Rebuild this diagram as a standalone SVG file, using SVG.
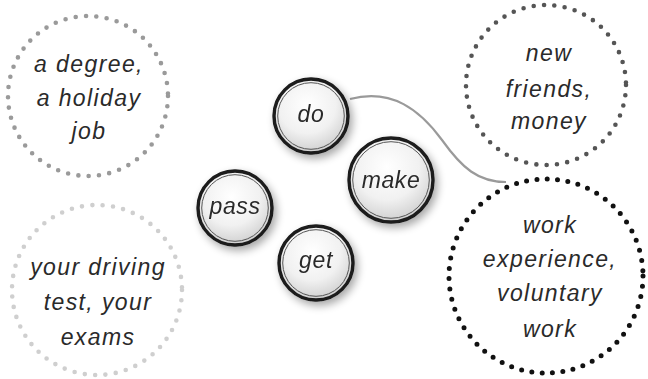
<svg xmlns="http://www.w3.org/2000/svg" width="648" height="379" viewBox="0 0 648 379">
<defs>
<radialGradient id="bub" cx="0.45" cy="0.35" r="0.7">
<stop offset="0" stop-color="#ffffff"/>
<stop offset="0.55" stop-color="#f1f1f1"/>
<stop offset="1" stop-color="#c9c9c9"/>
</radialGradient>
<filter id="sh" x="-40%" y="-40%" width="180%" height="180%">
<feGaussianBlur in="SourceAlpha" stdDeviation="4"/>
<feOffset dx="3" dy="4" result="b"/>
<feComponentTransfer><feFuncA type="linear" slope="0.35"/></feComponentTransfer>
<feMerge><feMergeNode/><feMergeNode in="SourceGraphic"/></feMerge>
</filter>
</defs>
<style>
.dots{fill:none;stroke-linecap:round;stroke-dasharray:0 10.4}
.t{font-family:"Liberation Sans","DejaVu Sans",sans-serif;font-style:italic;font-size:23px;letter-spacing:1.4px;fill:#2a2a2a;text-anchor:middle}
.b{letter-spacing:0.6px}
.ring{fill:url(#bub);stroke:#1a1a1a;stroke-width:3.4}
.inner{fill:none;stroke:#555;stroke-width:1}
</style>
<g id="connectors">
<path d="M350,99 C392,88 420,110 442,140 C462,168 478,182 506,182" fill="none" stroke="#9a9a9a" stroke-width="2.2"/>
</g>
<g id="n-degree">
<circle class="dots" cx="88" cy="96" r="80" stroke="#9a9a9a" stroke-width="4.6"/>
<text class="t" x="89" y="72">a degree,</text>
<text class="t" x="89" y="106">a holiday</text>
<text class="t" x="89" y="139">job</text>
</g>
<g id="n-driving">
<circle class="dots" cx="97" cy="290" r="85" stroke="#cfcfcf" stroke-width="4.6"/>
<text class="t" x="98" y="275">your driving</text>
<text class="t" x="98" y="310">test, your</text>
<text class="t" x="98" y="345">exams</text>
</g>
<g id="n-friends">
<circle class="dots" cx="546" cy="85" r="80" stroke="#555" stroke-width="4.6"/>
<text class="t" x="549" y="61">new</text>
<text class="t" x="549" y="97">friends,</text>
<text class="t" x="549" y="129">money</text>
</g>
<g id="n-work">
<circle class="dots" cx="546" cy="276" r="97" stroke="#111" stroke-width="5"/>
<text class="t" x="550" y="233">work</text>
<text class="t" x="550" y="267">experience,</text>
<text class="t" x="550" y="301">voluntary</text>
<text class="t" x="550" y="337">work</text>
</g>
<g id="n-do" filter="url(#sh)">
<circle class="ring" cx="311" cy="116" r="37"/>
<circle class="inner" cx="311" cy="116" r="33.3"/>
<text class="t b" x="311" y="122">do</text>
</g>
<g id="n-make" filter="url(#sh)">
<circle class="ring" cx="391" cy="180" r="42"/>
<circle class="inner" cx="391" cy="180" r="38.3"/>
<text class="t b" x="391" y="188">make</text>
</g>
<g id="n-pass" filter="url(#sh)">
<circle class="ring" cx="235" cy="208" r="37"/>
<circle class="inner" cx="235" cy="208" r="33.3"/>
<text class="t b" x="235" y="214">pass</text>
</g>
<g id="n-get" filter="url(#sh)">
<circle class="ring" cx="316" cy="263" r="37"/>
<circle class="inner" cx="316" cy="263" r="33.3"/>
<text class="t b" x="316" y="268">get</text>
</g>
</svg>
